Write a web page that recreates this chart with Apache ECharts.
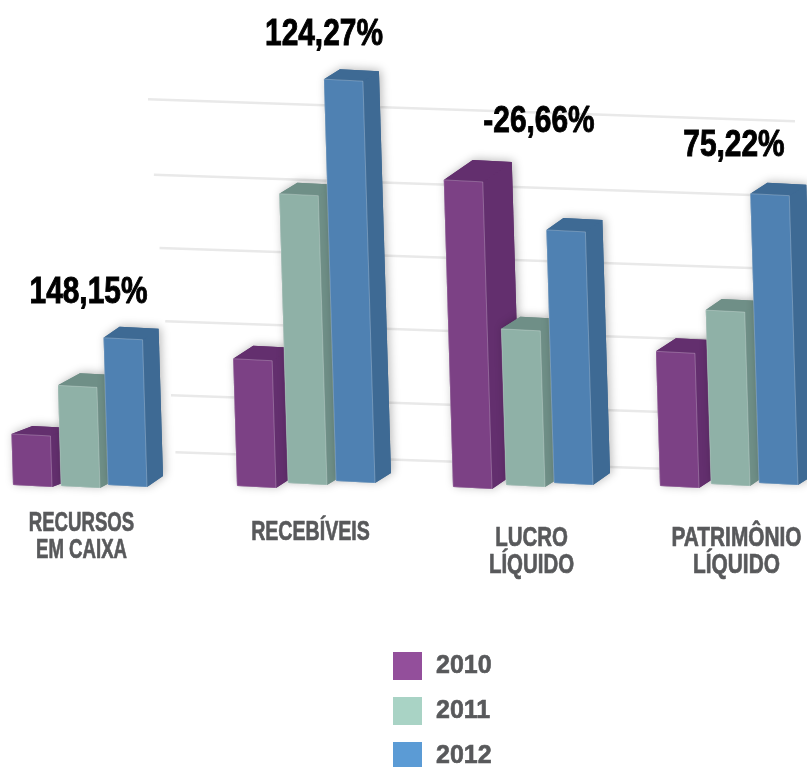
<!DOCTYPE html>
<html>
<head>
<meta charset="utf-8">
<style>
	html, body { margin: 0; padding: 0; background: #fff; }
	#chart { width: 807px; height: 767px; }
</style>
<script src="https://cdn.jsdelivr.net/npm/echarts@6/dist/echarts.min.js"></script>
</head>
<body>
<div id="chart"></div>
<script>
	// dados (escala arbitraria, o grafico original nao tem eixo)
	var categories = ['RECURSOS\nEM CAIXA', 'RECEBÍVEIS', 'LUCRO\nLÍQUIDO', 'PATRIMÔNIO\nLÍQUIDO']
	var growth = ['148,15%', '124,27%', '-26,66%', '75,22%']
	var years = ['2010', '2011', '2012']
	var values2010 = [69, 172, 415, 182]
	var values2011 = [136, 391, 211, 235]
	var values2012 = [199, 543, 342, 391]
	var gridLines = [47, 124, 224, 323, 422, 524]

	// aparencia
	var front = ['#7c4185', '#8fb1a7', '#4f81b2']
	var dark = ['#632f6e', '#6f8f87', '#3e6a94']
	var legendColors = ['#934f9b', '#a9d3c5', '#5b9bd5']
	var font = '"Liberation Sans", sans-serif'

	// ajustes de perspectiva em pixels (por grupo)
	var groupShift = [-1, 9, 10, -2]
	var slotGap = [
		[-48, -51, -53, -51],
		[0, 0, 0, 0],
		[47, 48, 48, 48]
	]
	var baseDrop = [
		[-2, -1, 0, -1],
		[-1, -4, -2, -3],
		[-2, -6, -4, -4]
	]
	var depthX = [
		[21, 20, 29, 20],
		[22, 18, 19, 16],
		[16, 16, 17, 17]
	]
	var depthY = [
		[8, 13, 20, 13],
		[12, 11, 12, 11],
		[11, 10, 12, 11]
	]
	var growthShift = [7, 25.5, 23.5, 1.5]
	var growthLift = [47, 50, 58, 52]
	var nameShift = [0, 12, 16, 4]
	var nameY = [537, 532, 552, 552]
	var nameScale = [0.665, 0.7, 0.73, 0.745]
	var barWidth = 39
	var lean = 0.03

	function poly(points, color, extra) {
		return {
			type: 'polygon',
			shape: { points: points },
			style: Object.assign({ fill: color }, extra || {})
		}
	}

	function barRenderer(slot) {
		return function (params, api) {
			var i = api.value(0)
			var zero = api.coord([i, 0])
			var top = api.coord([i, api.value(1)])
			var drop = baseDrop[slot][i]
			var x0 = zero[0] + groupShift[i] - barWidth / 2 + slotGap[slot][i]
			var y0 = zero[1] + drop
			var yt = top[1] + drop
			var off = (y0 - yt) * lean
			var dx = depthX[slot][i]
			var dy = depthY[slot][i]
			var tl = [x0 - off, yt]
			var tr = [x0 - off + barWidth, yt + 2]
			var br = [x0 + barWidth, y0 + 2]
			var bl = [x0, y0]
			var tlb = [tl[0] + dx, tl[1] - dy]
			var trb = [tr[0] + dx, tr[1] - dy]
			var brb = [br[0] + dx, br[1] - dy]
			return {
				type: 'group',
				children: [
					poly([tl, tlb, trb, brb, br, bl], dark[slot], {
						shadowBlur: 10,
						shadowColor: 'rgba(0,0,0,0.28)',
						shadowOffsetX: 2,
						shadowOffsetY: -1
					}),
					poly([tr, trb, brb, br], dark[slot]),
					poly([tl, tlb, trb, tr], dark[slot]),
					poly([tl, tr, br, bl], front[slot], {
						stroke: 'rgba(255,255,255,0.3)',
						lineWidth: 0.8
					})
				]
			}
		}
	}

	function gridRenderer(params, api) {
		var v = api.value(0)
		var p = api.coord([0, v])
		var x1 = 148 + (524 - v) * 0.0575
		var x2 = 795
		return {
			type: 'line',
			silent: true,
			shape: { x1: x1, y1: p[1], x2: x2, y2: p[1] + (x2 - x1) * 0.034 },
			style: { stroke: '#e9e9e9', lineWidth: 2.5 }
		}
	}

	function growthRenderer(params, api) {
		var i = api.value(0)
		var tallest = Math.max(values2010[i], values2011[i], values2012[i])
		var p = api.coord([i, tallest])
		return {
			type: 'text',
			x: p[0] + growthShift[i],
			y: p[1] - growthLift[i],
			scaleX: 0.83,
			style: {
				x: 0,
				y: 0,
				text: growth[i],
				fill: '#000',
				stroke: '#000',
				lineWidth: 0.9,
				font: 'bold 36px ' + font,
				align: 'center',
				verticalAlign: 'middle'
			}
		}
	}

	function nameRenderer(params, api) {
		var i = api.value(0)
		var p = api.coord([i, 0])
		return {
			type: 'text',
			x: p[0] + nameShift[i],
			y: nameY[i],
			scaleX: nameScale[i],
			style: {
				x: 0,
				y: 0,
				text: categories[i],
				fill: '#58595b',
				stroke: '#58595b',
				lineWidth: 0.7,
				font: 'bold 28px ' + font,
				lineHeight: 27,
				align: 'center',
				verticalAlign: 'middle'
			}
		}
	}

	function barSeries(name, slot, values) {
		return {
			name: name,
			type: 'custom',
			renderItem: barRenderer(slot),
			itemStyle: { color: legendColors[slot] },
			encode: { x: 0, y: 1 },
			data: values.map(function (v, i) { return [i, v] }),
			clip: false,
			z: 3
		}
	}

	var index = categories.map(function (c, i) { return [i] })

	var chart = echarts.init(document.getElementById('chart'))
	chart.setOption({
		animation: false,
		backgroundColor: '#fff',
		grid: { left: -27, width: 868, top: 6, height: 481, outerBoundsMode: 'none' },
		xAxis: { type: 'category', data: categories, show: false },
		yAxis: { type: 'value', min: 0, max: 650, show: false },
		legend: {
			orient: 'vertical',
			left: 388,
			top: 647,
			height: 135,
			itemWidth: 29,
			itemHeight: 28,
			itemGap: 17,
			selectedMode: false,
			textStyle: {
				color: '#58595b',
				fontFamily: font,
				fontWeight: 'bold',
				fontSize: 25,
				textBorderColor: '#58595b',
				textBorderWidth: 0.6,
				padding: [0, 0, 0, 9]
			},
			data: years.map(function (y, i) {
				return { name: y, icon: 'rect', itemStyle: { color: legendColors[i] } }
			})
		},
		series: [
			{
				type: 'custom',
				renderItem: gridRenderer,
				data: gridLines.map(function (v) { return [v] }),
				encode: { y: 0 },
				silent: true,
				z: 1
			},
			barSeries(years[0], 0, values2010),
			barSeries(years[1], 1, values2011),
			barSeries(years[2], 2, values2012),
			{ type: 'custom', renderItem: growthRenderer, data: index, silent: true, z: 5 },
			{ type: 'custom', renderItem: nameRenderer, data: index, silent: true, z: 5 }
		]
	})
</script>
</body>
</html>
